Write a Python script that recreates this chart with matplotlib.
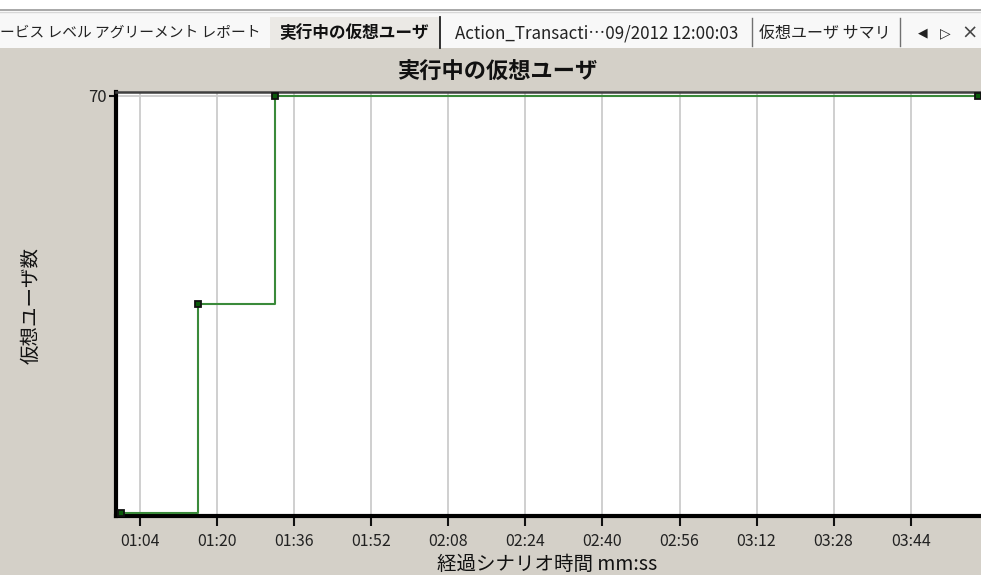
import matplotlib
matplotlib.use("Agg")
import matplotlib.pyplot as plt
from matplotlib.patches import Rectangle
from matplotlib.lines import Line2D
from matplotlib.ticker import FixedLocator, FuncFormatter

plt.rcParams['font.family'] = ['Noto Sans CJK JP', 'DejaVu Sans']

# Running virtual users over elapsed scenario time (seconds)
elapsed_s = [60, 76, 92, 238]
running_vusers = [0, 35, 70, 70]
x_ticks_s = [64, 80, 96, 112, 128, 144, 160, 176, 192, 208, 224]
y_ticks = [70]

title = "実行中の仮想ユーザ"
x_label = "経過シナリオ時間 mm:ss"
y_label = "仮想ユーザ数"
tab_labels = ["ービス レベル アグリーメント レポート", "実行中の仮想ユーザ",
              "Action_Transacti\u202609/2012 12:00:03", "仮想ユーザ サマリ"]

W, H = 981, 575
PANEL = "#d4d0c8"
fig = plt.figure(figsize=(W / 100, H / 100), dpi=100, facecolor=PANEL)


def fx(px):
    return px / W


def fy(py):
    return 1 - py / H


def rect(x0, y0, x1, y1, color, z=0):
    fig.add_artist(Rectangle((fx(x0), fy(y1)), fx(x1) - fx(x0), fy(y0) - fy(y1),
                             transform=fig.transFigure, facecolor=color,
                             edgecolor="none", zorder=z))


def vline(x, y0, y1, color, lw=1.0):
    fig.add_artist(Line2D([fx(x), fx(x)], [fy(y0), fy(y1)], transform=fig.transFigure,
                          color=color, lw=lw, zorder=3))


def hline(y, x0, x1, color, lw=1.0):
    fig.add_artist(Line2D([fx(x0), fx(x1)], [fy(y), fy(y)], transform=fig.transFigure,
                          color=color, lw=lw, zorder=3))


# Tab strip
rect(0, 0, W, 48, "#ffffff", 1)
rect(0, 12, W, 48, "#f8f8f8", 1)
hline(9.5, 0, W, "#9a9a9a", 1.2)
hline(11.5, 0, W, "#d8d8d8", 1.0)
rect(270, 17, 440, 48, "#ebe9e5", 2)
vline(440, 17, 48, "#202020", 1.3)
vline(752, 18, 46, "#707070", 1.0)
vline(900, 18, 46, "#707070", 1.0)

tab_y = fy(33)
fig.text(fx(0), tab_y, tab_labels[0], fontsize=10.6, ha="left", va="center",
         color="#222222", zorder=4)
fig.text(fx(279), tab_y, tab_labels[1], fontsize=12, fontweight="bold", ha="left",
         va="center", color="#111111", zorder=4)
fig.text(fx(455), tab_y, tab_labels[2], fontsize=12.2, ha="left", va="center",
         color="#222222", zorder=4)
fig.text(fx(759), tab_y, tab_labels[3], fontsize=11.5, ha="left", va="center",
         color="#222222", zorder=4)
fig.text(fx(918), tab_y, "\u25c0", fontsize=9, ha="left", va="center",
         color="#222222", family=['DejaVu Sans'], zorder=4)
fig.text(fx(940), tab_y, "\u25b7", fontsize=10, ha="left", va="center",
         color="#222222", family=['DejaVu Sans'], zorder=4)
fig.text(fx(961), tab_y, "\u00d7", fontsize=14, ha="left", va="center",
         color="#444444", family=['DejaVu Sans'], zorder=4)

# Chart title
fig.text(fx(497), fy(71), title, fontsize=16, fontweight="bold", ha="center",
         va="center", color="#111111")

# Plot area
left, right, top, bottom = 116, 981, 92.3, 516
ax = fig.add_axes([fx(left), fy(bottom), fx(right) - fx(left), fy(top) - fy(bottom)])
ax.set_facecolor("white")
ax.set_xlim(59.0, 238.6)
ax.set_ylim(-0.55, 70.6)

ax.plot(elapsed_s, running_vusers, drawstyle="steps-post", color="#3a8a3a", lw=1.5,
        zorder=3, clip_on=False)
ax.plot(elapsed_s, running_vusers, ls="none", marker="s", markersize=5,
        markerfacecolor="#0a5a0a", markeredgecolor="#111111", markeredgewidth=1.3,
        zorder=4, clip_on=False)

ax.xaxis.set_major_locator(FixedLocator(x_ticks_s))
ax.xaxis.set_major_formatter(FuncFormatter(lambda v, _: f"{int(v) // 60:02d}:{int(v) % 60:02d}"))
ax.yaxis.set_major_locator(FixedLocator(y_ticks))
ax.grid(True, color="#cccccc", lw=1.3, zorder=0)
ax.set_axisbelow(True)

ax.tick_params(axis="x", direction="out", length=7, width=1.5, color="#111111",
               labelsize=11.5, labelcolor="#222222", pad=5)
ax.tick_params(axis="y", direction="out", length=5, width=1.5, color="#111111",
               labelsize=12, labelcolor="#222222", pad=2)

for side in ("left", "bottom"):
    ax.spines[side].set_linewidth(3)
    ax.spines[side].set_color("#000000")
ax.spines["top"].set_linewidth(1.8)
ax.spines["top"].set_color("#404040")
ax.spines["right"].set_visible(False)

fig.text(fx(547), fy(564), x_label, fontsize=14, ha="center", va="center",
         color="#111111")
fig.text(fx(31), fy(305), y_label, fontsize=14, ha="center", va="center",
         rotation=90, color="#111111")

fig.savefig("out.png", dpi=100, facecolor=PANEL)
